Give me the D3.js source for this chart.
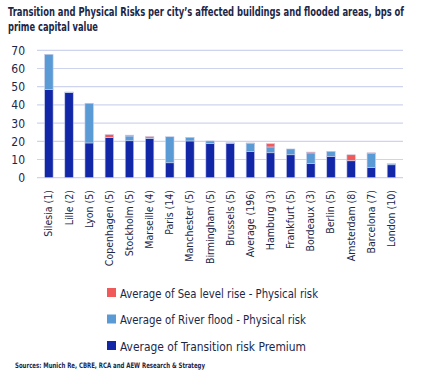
<html>
<head>
<script src="https://d3js.org/d3.v7.min.js"></script>
<style>
body { margin: 0; background: #fff; }
text { font-family: 'DejaVu Sans Condensed', 'DejaVu Sans', sans-serif; font-stretch: condensed; fill: #1c2748; }
</style>
</head>
<body>
<div id="chart"></div>
<script>
var cities = ["Silesia (1)", "Lille (2)", "Lyon (5)", "Copenhagen (5)", "Stockholm (5)", "Marseille (4)",
  "Paris (14)", "Manchester (5)", "Birmingham (5)", "Brussels (5)", "Average (196)", "Hamburg (3)",
  "Frankfurt (5)", "Bordeaux (3)", "Berlin (5)", "Amsterdam (8)", "Barcelona (7)", "London (10)"];
var transition = [48.4, 46.7, 19.1, 22.0, 20.3, 21.6, 8.2, 20.2, 18.7, 18.7, 14.5, 13.7, 12.6, 7.7, 11.7, 9.3, 5.5, 7.1];
var riverFlood = [19.4, 0.4, 21.8, 0.2, 2.6, 0.2, 14.3, 2.0, 1.5, 0.5, 4.2, 3.2, 3.2, 5.9, 2.8, 0.1, 7.7, 0.6];
var seaLevel   = [0, 0, 0, 1.5, 0.5, 0.8, 0, 0, 0, 0, 0.4, 1.8, 0, 0.5, 0, 3.2, 0.5, 0];
var yTicks = [0, 10, 20, 30, 40, 50, 60, 70];

var seriesNames = ["Average of Transition risk Premium", "Average of River flood - Physical risk", "Average of Sea level rise - Physical risk"];
var colors = ["#1226a8", "#5b9bd5", "#f05a5a"];

var svg = d3.select("#chart").append("svg").attr("width", 424).attr("height", 379);

// title
svg.append("text").attr("x", 8).attr("y", 16)
  .style("font-weight", "bold").style("font-size", "12px")
  .attr("textLength", 396).attr("lengthAdjust", "spacingAndGlyphs")
  .text("Transition and Physical Risks per city\u2019s affected buildings and flooded areas, bps of");
svg.append("text").attr("x", 8).attr("y", 31)
  .style("font-weight", "bold").style("font-size", "12px")
  .attr("textLength", 90).attr("lengthAdjust", "spacingAndGlyphs")
  .text("prime capital value");

var x = d3.scaleBand().domain(cities).range([38.8, 401.5]).paddingInner(0.58).paddingOuter(0.29);
var y = d3.scaleLinear().domain([0, 70]).range([177.7, 50.3]);

var g = svg.append("g");

// gridlines
g.selectAll(".grid").data(yTicks).enter().append("line")
  .attr("x1", 37).attr("x2", 403)
  .attr("y1", function(d) { return y(d); }).attr("y2", function(d) { return y(d); })
  .attr("stroke", "#cfd4ee").attr("stroke-width", 1.2);

// y labels
g.selectAll(".ylab").data(yTicks).enter().append("text")
  .attr("x", 25).attr("y", function(d) { return y(d) + 4.5; })
  .style("text-anchor", "end").style("font-size", "12px")
  .text(function(d) { return d; });

// stacked bars
var rows = cities.map(function(c, i) {
  return { city: c, t: transition[i], r: riverFlood[i], s: seaLevel[i] };
});
var stack = d3.stack().keys(["t", "r", "s"])(rows);

g.selectAll(".layer").data(stack).enter().append("g")
  .attr("fill", function(d, i) { return colors[i]; })
  .selectAll("rect").data(function(d) { return d; })
  .enter().append("rect")
  .attr("x", function(d) { return x(d.data.city); })
  .attr("width", x.bandwidth())
  .attr("y", function(d) { return y(d[1]); })
  .attr("height", function(d) { return y(d[0]) - y(d[1]); })
  .attr("stroke", "#c9cdea").attr("stroke-width", 0.6);

// x labels
g.selectAll(".xlab").data(cities).enter().append("text")
  .attr("transform", function(d) {
    return "translate(" + (x(d) + x.bandwidth() / 2 + 3.5) + ",190) rotate(-90)";
  })
  .style("text-anchor", "end").style("font-size", "10.5px")
  .text(function(d) { return d; });

// legend
var legendOrder = [2, 1, 0];
var leg = svg.selectAll(".leg").data(legendOrder).enter().append("g")
  .attr("transform", function(d, i) { return "translate(107," + (288 + i * 26.5) + ")"; });
leg.append("rect").attr("width", 9).attr("height", 9)
  .attr("fill", function(d) { return colors[d]; });
leg.append("text").attr("x", 13).attr("y", 9.5)
  .style("font-size", "13px")
  .attr("textLength", function(d) { return [186, 186, 198][d]; })
  .attr("lengthAdjust", "spacingAndGlyphs")
  .text(function(d) { return seriesNames[d]; });

// source
svg.append("text").attr("x", 15).attr("y", 368)
  .style("font-size", "7.5px").style("font-weight", "bold")
  .attr("textLength", 190).attr("lengthAdjust", "spacingAndGlyphs")
  .text("Sources: Munich Re, CBRE, RCA and AEW Research & Strategy");
</script>
</body>
</html>
